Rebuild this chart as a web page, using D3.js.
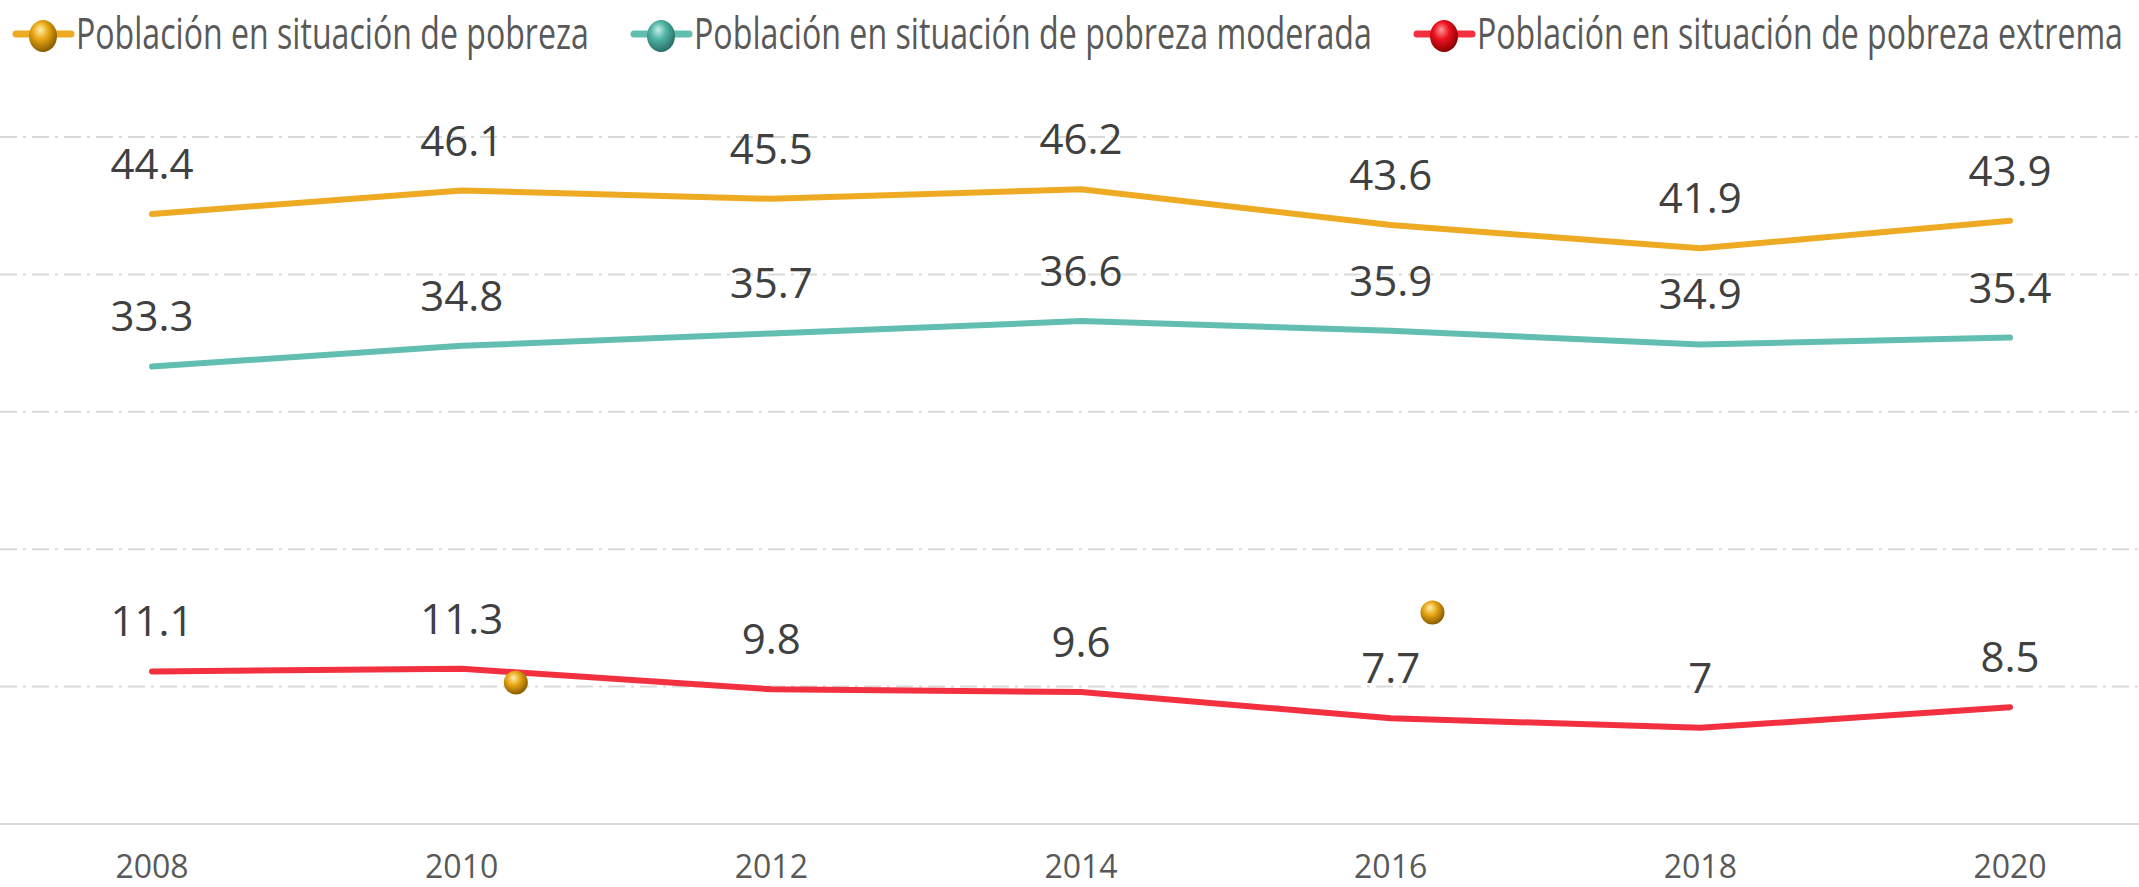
<!DOCTYPE html>
<html>
<head>
<meta charset="utf-8">
<script src="https://cdn.jsdelivr.net/npm/d3@7"></script>
<style>
  body { margin: 0; background: #fff; }
  svg { display: block; }
</style>
</head>
<body>
<svg id="chart"></svg>
<script>
const years = [2008, 2010, 2012, 2014, 2016, 2018, 2020];
const pobreza = [44.4, 46.1, 45.5, 46.2, 43.6, 41.9, 43.9];
const moderada = [33.3, 34.8, 35.7, 36.6, 35.9, 34.9, 35.4];
const extrema = [11.1, 11.3, 9.8, 9.6, 7.7, 7, 8.5];
const seriesNames = [
    "Población en situación de pobreza",
    "Población en situación de pobreza moderada",
    "Población en situación de pobreza extrema"
];
const gridValues = [10, 20, 30, 40, 50];
// two loose markers sitting on the plot in the original
const strayYears = [2010.35, 2016.27];
const strayValues = [10.3, 15.4];

const W = 2139, H = 887;
const colors = ["#EEAA22", "#62BEB1", "#F2303F"];
const sphereStops = [
    ["#FFF0B0", "#E9A614", "#8A5C00"],
    ["#C4F0E9", "#4FB3A6", "#2A7066"],
    ["#FF9A9A", "#EC1220", "#8C0000"]
];
const legendTextWidths = [513, 678, 646]; // narrow Calibri-like face in the original

const svg = d3.select("#chart").attr("width", W).attr("height", H)
    .style("font-family", "'Open Sans', 'Noto Sans', sans-serif");

const x = d3.scaleLinear().domain([2008, 2020]).range([152, 2010]);
const y = d3.scaleLinear().domain([0, 50]).range([824, 137]);

// sphere gradients
const defs = svg.append("defs");
sphereStops.forEach((s, i) => {
    const g = defs.append("radialGradient").attr("id", "sph" + i)
        .attr("cx", "42%").attr("cy", "38%").attr("r", "62%").attr("fx", "40%").attr("fy", "30%");
    g.append("stop").attr("offset", "0%").attr("stop-color", s[0]);
    g.append("stop").attr("offset", "45%").attr("stop-color", s[1]);
    g.append("stop").attr("offset", "100%").attr("stop-color", s[2]);
});

// gridlines
svg.append("g").selectAll("line").data(gridValues).join("line")
    .attr("x1", 0).attr("x2", W)
    .attr("y1", d => y(d)).attr("y2", d => y(d))
    .attr("stroke", "#d9d9d9").attr("stroke-width", 2)
    .attr("stroke-dasharray", "17 6 3 6");

// baseline
svg.append("line").attr("x1", 0).attr("x2", W).attr("y1", y(0)).attr("y2", y(0))
    .attr("stroke", "#d9d9d9").attr("stroke-width", 2);

// x tick labels
svg.append("g").selectAll("text").data(years).join("text")
    .attr("x", d => x(d)).attr("y", 878)
    .attr("text-anchor", "middle").attr("font-size", 32).attr("fill", "#595959")
    .text(d => d);

const series = [pobreza, moderada, extrema];
const line = d3.line().x((d, i) => x(years[i])).y(d => y(d));

series.forEach((vals, si) => {
    svg.append("path").datum(vals)
        .attr("d", line)
        .attr("fill", "none").attr("stroke", colors[si])
        .attr("stroke-width", 6).attr("stroke-linecap", "round").attr("stroke-linejoin", "round");

    svg.append("g").selectAll("text").data(vals).join("text")
        .attr("x", (d, i) => x(years[i]))
        .attr("y", d => y(d) - 35)
        .attr("text-anchor", "middle").attr("font-size", 42).attr("fill", "#404040")
        .text(d => d);
});

// stray markers
svg.append("g").selectAll("circle").data(strayValues).join("circle")
    .attr("cx", (d, i) => x(strayYears[i])).attr("cy", d => y(d))
    .attr("r", 12).attr("fill", "url(#sph0)");

// legend: text squeezed horizontally to mimic the narrow face
const legend = svg.append("g");
let lx = 16;
seriesNames.forEach((name, i) => {
    const item = legend.append("g");
    item.append("line").attr("x1", lx).attr("x2", lx + 55).attr("y1", 34).attr("y2", 34)
        .attr("stroke", colors[i]).attr("stroke-width", 7).attr("stroke-linecap", "round");
    item.append("ellipse").attr("cx", lx + 27).attr("cy", 36).attr("rx", 14).attr("ry", 16)
        .attr("fill", "url(#sph" + i + ")");
    const tg = item.append("g");
    const t = tg.append("text").attr("x", 0).attr("y", 0)
        .attr("font-size", 43).attr("fill", "#595959").text(name);
    const natural = t.node().getComputedTextLength();
    const w = legendTextWidths[i];
    const k = Math.min(1, w / natural);
    tg.attr("transform", `translate(${lx + 60},49) scale(${k},1)`);
    lx += 60 + natural * k + 45;
});
</script>
</body>
</html>
